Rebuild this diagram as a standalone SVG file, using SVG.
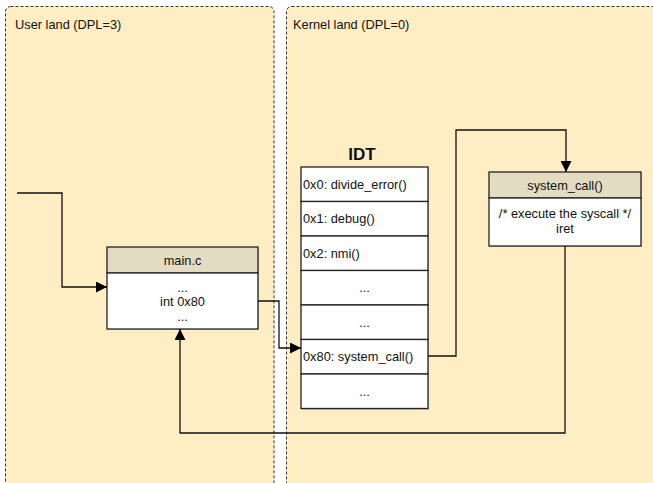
<svg xmlns="http://www.w3.org/2000/svg" width="653" height="483" viewBox="0 0 653 483">
<defs>
<style>
.panel{fill:#FFEEC4;stroke:#333;stroke-width:1;stroke-dasharray:3,2}
.box{fill:#fff;stroke:#222;stroke-width:1.3}
.hdr{fill:#E3DCC3;stroke:#222;stroke-width:1.3}
.shadow{fill:#999;opacity:0.5}
text{font-family:"Liberation Sans",Arial,sans-serif;font-size:12.8px;fill:#111}
.c{text-anchor:middle}
.title{font-size:17px;font-weight:bold}
.conn{fill:none;stroke:#111;stroke-width:1.3}
</style>
<marker id="arr" viewBox="0 0 10 10" refX="10" refY="5" markerWidth="11" markerHeight="11" markerUnits="userSpaceOnUse" orient="auto">
<path d="M0,0 L10,5 L0,10 z" fill="#000"/>
</marker>
</defs>
<rect width="653" height="483" fill="#fff"/>
<g id="user-land">
<rect class="panel" x="5.5" y="6.5" width="268.5" height="490" rx="5"/>
<text x="15" y="29">User land (DPL=3)</text>
</g>
<g id="kernel-land">
<rect class="panel" x="286.5" y="6.5" width="380" height="490" rx="5"/>
<text x="293" y="29">Kernel land (DPL=0)</text>
</g>
<g id="main-c">
<rect class="shadow" x="108" y="248" width="151" height="82"/>
<rect class="hdr" x="107" y="247" width="151" height="26"/>
<rect class="box" x="107" y="273" width="151" height="56"/>
<text class="c" x="182.5" y="265">main.c</text>
<text class="c" x="182.5" y="292">...</text>
<text class="c" x="182.5" y="306">int 0x80</text>
<text class="c" x="182.5" y="321">...</text>
</g>
<g id="idt">
<text class="c title" x="362" y="160">IDT</text>
<rect class="shadow" x="302" y="168" width="127" height="242"/>
<rect class="box" x="301" y="167" width="127" height="34.5"/>
<rect class="box" x="301" y="201.5" width="127" height="34.5"/>
<rect class="box" x="301" y="236" width="127" height="34.5"/>
<rect class="box" x="301" y="270.5" width="127" height="34.5"/>
<rect class="box" x="301" y="305" width="127" height="34.5"/>
<rect class="box" x="301" y="339.5" width="127" height="34.5"/>
<rect class="box" x="301" y="374" width="127" height="34.5"/>
<text x="303" y="189">0x0: divide_error()</text>
<text x="303" y="223">0x1: debug()</text>
<text x="303" y="258">0x2: nmi()</text>
<text class="c" x="364.5" y="292">...</text>
<text class="c" x="364.5" y="327">...</text>
<text x="303" y="361">0x80: system_call()</text>
<text class="c" x="364.5" y="396">...</text>
</g>
<g id="system-call">
<rect class="shadow" x="490" y="173" width="152" height="74"/>
<rect class="hdr" x="489" y="172" width="152" height="26"/>
<rect class="box" x="489" y="198" width="152" height="48"/>
<text class="c" x="565" y="190">system_call()</text>
<text class="c" x="565" y="218">/* execute the syscall */</text>
<text class="c" x="565" y="233">iret</text>
</g>
<g id="connectors">
<path class="conn" d="M17,193 H62 V287 H107" marker-end="url(#arr)"/>
<path class="conn" d="M258,301 H279 V348 H301" marker-end="url(#arr)"/>
<path class="conn" d="M428,356 H456 V130 H566 V172" marker-end="url(#arr)"/>
<path class="conn" d="M565,246 V433 H180 V329" marker-end="url(#arr)"/>
</g>
</svg>
